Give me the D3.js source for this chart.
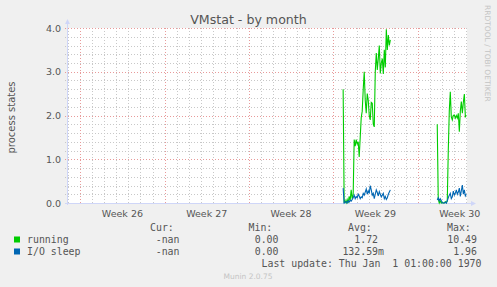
<!DOCTYPE html>
<html>
<head>
<meta charset="utf-8">
<script src="https://cdn.jsdelivr.net/npm/d3@7"></script>
<style>
  html, body { margin: 0; padding: 0; background: #f0f0f0; }
  svg { display: block; }
  .mono { font-family: 'DejaVu Sans Mono', monospace; }
</style>
</head>
<body>
<svg id="chart"></svg>
<script>
// munin samples every 2 hours on the month graph (day units)
var sampleStep = 1 / 12;

var weekLabels = ['Week 26', 'Week 27', 'Week 28', 'Week 29', 'Week 30'];
var weekStarts = [0, 7, 14, 21, 28];
var yTicks = [0, 1, 2, 3, 4];

var segmentStarts = [21.82, 29.63];

var runningSeg1 = [2.6, 0.0, 0.05, 0.0, 0.08, 0.0, 0.15, 0.05, 0.3, 0.1,
  0.2, 1.45, 1.3, 1.45, 1.35, 1.4, 1.05, 1.5, 1.95, 2.1,
  2.6, 3.0, 2.35, 2.05, 2.5, 2.35, 2.0, 1.9, 2.3, 2.28,
  1.8, 1.74, 3.0, 3.43, 3.04, 3.3, 3.6, 2.96, 3.2, 3.3,
  2.95, 3.5, 3.1, 3.97, 3.5, 3.84, 3.6, 3.73];
var runningSeg2 = [1.8, 0.1, 0, 0.05, 0, 0.02, 0, 0, 0.03, 0,
  0.05, 1.2, 2.1, 2.54, 1.97, 1.9, 2.0, 2.01, 1.94, 2.0,
  1.94, 2.05, 1.63, 2.1, 2.32, 2.05, 2.3, 2.49, 1.97, 2.0];

var ioSeg1 = [0.34, 0.0, 0.02, 0.03, 0.0, 0.05, 0.02, 0.06, 0.04, 0.08,
  0.12, 0.18, 0.1, 0.15, 0.12, 0.2, 0.16, 0.1, 0.14, 0.12,
  0.22, 0.18, 0.25, 0.32, 0.2, 0.28, 0.22, 0.4, 0.3, 0.18,
  0.22, 0.1, 0.2, 0.3, 0.24, 0.16, 0.26, 0.2, 0.14, 0.18,
  0.22, 0.1, 0.15, 0.08, 0.12, 0.2, 0.25, 0.3];
var ioSeg2 = [0.07, 0.12, 0.05, 0.1, 0.06, 0, 0, 0, 0.02, 0,
  0.05, 0.12, 0.18, 0.22, 0.1, 0.14, 0.27, 0.18, 0.22, 0.3,
  0.2, 0.25, 0.34, 0.15, 0.28, 0.41, 0.2, 0.3, 0.16, 0.2];

var seriesNames = ['running', 'I/O sleep'];
var seriesColors = ['#00cc00', '#0066b3'];
var curValues = ['-nan', '-nan'];
var minValues = ['0.00', '0.00'];
var avgValues = ['1.72', '132.59m'];
var maxValues = ['10.49', '1.96'];

(function draw() {
	'use strict';

	var width = 497,
		height = 287,
		pl = 67, pr = 467, pt = 28, pb = 203,
		svg = d3.select('svg#chart').attr('width', width).attr('height', height);

	var x = d3.scaleLinear().domain([-1.1, 32.1]).range([pl, pr]);
	var y = d3.scaleLinear().domain([0, 4]).range([pb, pt]);

	svg.append('rect').attr('width', width).attr('height', height).attr('fill', '#f0f0f0');
	svg.append('rect').attr('x', pl).attr('y', pt)
		.attr('width', pr - pl).attr('height', pb - pt).attr('fill', '#ffffff');

	function snap(v) { return Math.round(v) + 0.5; }

	// minor grid
	var grid = svg.append('g').attr('shape-rendering', 'crispEdges');
	var minorY = d3.range(0, 21).map(function(i) { return i * 0.2; })
		.filter(function(v) { return Math.abs(v - Math.round(v)) > 1e-6; });
	grid.selectAll('line.hminor').data(minorY).enter().append('line')
		.attr('x1', pl - 2).attr('x2', pr)
		.attr('y1', function(d) { return snap(y(d)); })
		.attr('y2', function(d) { return snap(y(d)); })
		.attr('stroke', '#c8c8c8').attr('stroke-dasharray', '1,2');
	var minorX = d3.range(-1, 33).filter(function(d) { return weekStarts.indexOf(d) < 0; });
	grid.selectAll('line.vminor').data(minorX).enter().append('line')
		.attr('x1', function(d) { return snap(x(d)); })
		.attr('x2', function(d) { return snap(x(d)); })
		.attr('y1', pt).attr('y2', pb + 2)
		.attr('stroke', '#c8c8c8').attr('stroke-dasharray', '1,2');

	// major grid
	grid.selectAll('line.hmajor').data(yTicks).enter().append('line')
		.attr('x1', pl - 2).attr('x2', pr)
		.attr('y1', function(d) { return snap(y(d)); })
		.attr('y2', function(d) { return snap(y(d)); })
		.attr('stroke', '#e89a9a').attr('stroke-dasharray', '1,2');
	grid.selectAll('line.vmajor').data(weekStarts).enter().append('line')
		.attr('x1', function(d) { return snap(x(d)); })
		.attr('x2', function(d) { return snap(x(d)); })
		.attr('y1', pt).attr('y2', pb + 2)
		.attr('stroke', '#e89a9a').attr('stroke-dasharray', '1,2');

	// axes lines + arrows
	var axisColor = '#cfd6f8';
	svg.append('line').attr('x1', pl + 0.5).attr('x2', pl + 0.5)
		.attr('y1', pb + 2).attr('y2', pt - 5).attr('stroke', axisColor);
	svg.append('path').attr('d', 'M' + (pl - 2) + ',' + (pt - 4) + 'L' + (pl + 0.5) + ',' + (pt - 9) + 'L' + (pl + 3) + ',' + (pt - 4) + 'Z')
		.attr('fill', axisColor);
	svg.append('line').attr('x1', pl - 2).attr('x2', pr + 5)
		.attr('y1', pb + 0.5).attr('y2', pb + 0.5).attr('stroke', axisColor);
	svg.append('path').attr('d', 'M' + (pr + 4) + ',' + (pb - 2) + 'L' + (pr + 9) + ',' + (pb + 0.5) + 'L' + (pr + 4) + ',' + (pb + 3) + 'Z')
		.attr('fill', axisColor);

	// series
	function buildPoints(start, values) {
		return values.map(function(v, i) { return { t: start + i * sampleStep, v: v }; });
	}
	var series = [
		[buildPoints(segmentStarts[0], runningSeg1), buildPoints(segmentStarts[1], runningSeg2)],
		[buildPoints(segmentStarts[0], ioSeg1), buildPoints(segmentStarts[1], ioSeg2)]
	];
	var line = d3.line().x(function(d) { return x(d.t); }).y(function(d) { return y(d.v); });
	series.forEach(function(segs, i) {
		svg.append('g').selectAll('path').data(segs).enter().append('path')
			.attr('d', line).attr('fill', 'none')
			.attr('stroke', seriesColors[i]).attr('stroke-width', 1.1);
	});

	// y axis labels
	var yAxis = d3.axisLeft(y).tickValues(yTicks).tickFormat(d3.format('.1f')).tickSize(0).tickPadding(6);
	var ya = svg.append('g').attr('transform', 'translate(' + pl + ',0)').call(yAxis);
	ya.select('.domain').remove();
	ya.selectAll('text').attr('font-family', 'DejaVu Sans').attr('font-size', '9.5px').attr('fill', '#555');

	// x axis labels (centered on each week)
	svg.append('g').selectAll('text').data(weekLabels).enter().append('text')
		.attr('x', function(d, i) { return x(weekStarts[i] + 3.5); })
		.attr('y', 216.5)
		.attr('text-anchor', 'middle')
		.attr('font-family', 'DejaVu Sans').attr('font-size', '9.5px').attr('fill', '#555')
		.text(function(d) { return d; });

	// title and side texts
	svg.append('text').attr('x', 248.5).attr('y', 24)
		.attr('text-anchor', 'middle').attr('font-family', 'DejaVu Sans').attr('font-size', '12.6px')
		.attr('fill', '#555').text('VMstat - by month');
	svg.append('text').attr('transform', 'translate(15,' + ((pt + pb) / 2 + 2) + ') rotate(-90)')
		.attr('text-anchor', 'middle').attr('font-family', 'DejaVu Sans').attr('font-size', '10px')
		.attr('fill', '#555').text('process states');
	svg.append('text').attr('transform', 'translate(485,5) rotate(90)')
		.attr('font-family', 'DejaVu Sans').attr('font-size', '7.5px')
		.attr('fill', '#c4c4c4').text('RRDTOOL / TOBI OETIKER');

	// legend
	var legend = svg.append('g').attr('class', 'mono').attr('font-size', '9.9px').attr('fill', '#555');
	var headers = [['Cur:', 150], ['Min:', 248.5], ['Avg:', 348], ['Max:', 447]];
	legend.selectAll('text.h').data(headers).enter().append('text')
		.attr('x', function(d) { return d[1]; }).attr('y', 231).text(function(d) { return d[0]; });

	seriesNames.forEach(function(name, i) {
		var by = 243 + i * 12;
		legend.append('rect').attr('x', 14).attr('y', by - 6.5).attr('width', 6).attr('height', 6)
			.attr('fill', seriesColors[i]);
		legend.append('text').attr('x', 27).attr('y', by).text(name);
		legend.append('text').attr('x', 179.5).attr('y', by).attr('text-anchor', 'end').text(curValues[i]);
		legend.append('text').attr('x', 278.5).attr('y', by).attr('text-anchor', 'end').text(minValues[i]);
		var avg = /[a-z]$/.test(avgValues[i]) ? avgValues[i] : avgValues[i] + '\u00a0';
		legend.append('text').attr('x', 384).attr('y', by).attr('text-anchor', 'end').text(avg);
		legend.append('text').attr('x', 477).attr('y', by).attr('text-anchor', 'end').text(maxValues[i]);
	});
	legend.append('text').attr('x', 261.5).attr('y', 267).text('Last update: Thu Jan \u00a01 01:00:00 1970');

	svg.append('text').attr('x', 248).attr('y', 279).attr('text-anchor', 'middle')
		.attr('font-family', 'DejaVu Sans').attr('font-size', '7.5px').attr('fill', '#c4c4c4')
		.text('Munin 2.0.75');
})();
</script>
</body>
</html>
